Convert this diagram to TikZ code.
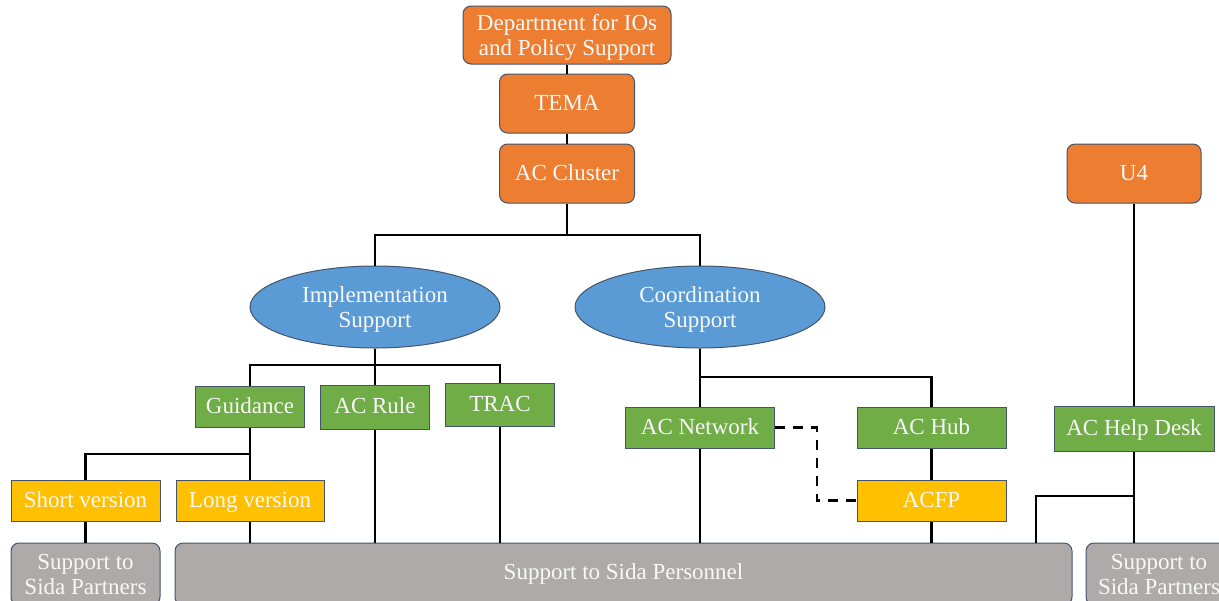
\documentclass[tikz,border=0pt]{standalone}
\usepackage{fontspec}
\setmainfont{Liberation Serif}
\usetikzlibrary{shapes.geometric}
\definecolor{orangeC}{HTML}{ED7D31}
\definecolor{blueC}{HTML}{5B9BD5}
\definecolor{greenC}{HTML}{70AD47}
\definecolor{yellowC}{HTML}{FFC000}
\definecolor{grayC}{HTML}{AEAAAA}
\definecolor{edgeC}{HTML}{44546A}
\definecolor{textC}{HTML}{F8F8F8}
\tikzset{
  base/.style={draw=edgeC, line width=0.5pt, text=textC, align=center, inner sep=0pt,
    font=\fontsize{11.5}{12.5}\selectfont},
  oneline/.style={text height=8.1pt, text depth=1.5pt},
  orangefill/.style={base, fill=orangeC, rounded corners=4pt},
  orangebox/.style={orangefill, oneline, minimum width=67.5pt, minimum height=29.5pt},
  ovalbox/.style={base, ellipse, fill=blueC, minimum width=125pt, minimum height=41pt},
  greenbox/.style={base, oneline, fill=greenC, minimum width=54.5pt, minimum height=21pt},
  widegreen/.style={base, oneline, fill=greenC, minimum width=74.5pt, minimum height=20.5pt},
  yellowbox/.style={base, oneline, fill=yellowC, minimum width=74.5pt, minimum height=20.5pt},
  graybox/.style={base, fill=grayC, rounded corners=4pt, minimum height=31pt},
  conn/.style={line width=1.3pt, black},
  dashconn/.style={conn, dash pattern=on 5pt off 4pt}
}
\begin{document}
\begin{tikzpicture}[x=0.5pt, y=-0.5pt]
\useasboundingbox (0,0) rectangle (1219,600);
\clip (0,0) rectangle (1219,600);
% top chain
\node[orangefill, minimum width=104pt, minimum height=29pt] (dept) at (567,35) {Department for IOs\\\smash{and Policy Support}};
\node[orangebox] (tema) at (567,103.5) {TEMA};
\node[orangebox] (cluster) at (567,173.5) {AC Cluster};
\node[orangebox, minimum width=67pt] (u4) at (1134,173.5) {U4};
% ellipses
\node[ovalbox] (impl) at (375,307) {Implementation\\\smash{Support}};
\node[ovalbox] (coord) at (700,307) {Coordination\\\smash{Support}};
% green boxes
\node[greenbox, minimum height=20.5pt] (guid) at (250,406.5) {Guidance};
\node[greenbox, minimum height=22pt] (rule) at (375,407) {AC Rule};
\node[greenbox, minimum height=21.5pt] (trac) at (500,404.5) {TRAC};
\node[widegreen] (net) at (700,427.5) {AC Network};
\node[widegreen] (hub) at (931.5,427.5) {AC Hub};
\node[widegreen, minimum width=80pt, minimum height=22.5pt] (help) at (1134,428.5) {AC Help Desk};
% yellow boxes
\node[yellowbox] (short) at (85.5,500.5) {Short version};
\node[yellowbox, minimum width=74pt] (long) at (250,500.5) {Long version};
\node[yellowbox] (acfp) at (931.5,500.5) {ACFP};
% gray boxes
\node[graybox, minimum width=74.5pt] (gleft) at (85.5,574) {Support to\\Sida Partners};
\node[graybox, minimum width=448.5pt] (big) at (623.5,574) {Support to Sida Personnel};
\node[graybox, minimum width=73pt] (gright) at (1159,574) {Support to\\Sida Partners};
% junctions
\coordinate (j1) at (567,235);
\coordinate (j2) at (375,365);
\coordinate (j3) at (250,454);
\coordinate (j4) at (700,377);
\coordinate (j5) at (1134,496);
\coordinate (j6) at (1036,543);
\coordinate (dx) at (817,0);
% connectors
\draw[conn] (dept.south) -- (tema.north);
\draw[conn] (tema.south) -- (cluster.north);
\draw[conn] (cluster.south) -- (j1);
\draw[conn] (impl.north) |- (j1) -| (coord.north);
\draw[conn] (impl.south) -- (j2);
\draw[conn] (guid.north) |- (j2) -| (trac.north);
\draw[conn] (j2) -- (rule.north);
\draw[conn] (guid.south) -- (long.north);
\draw[conn] (short.north) |- (j3);
\draw[conn] (short.south) -- (gleft.north);
\draw[conn] (long.south) -- (long.south |- big.north);
\draw[conn] (rule.south) -- (rule.south |- big.north);
\draw[conn] (trac.south) -- (trac.south |- big.north);
\draw[conn] (coord.south) -- (net.north);
\draw[conn] (j4) -| (hub.north);
\draw[conn] (net.south) -- (net.south |- big.north);
\draw[conn] (hub.south) -- (acfp.north);
\draw[conn] (acfp.south) -- (acfp.south |- big.north);
\draw[dashconn] (net.east) -| (dx |- acfp.west) -- (acfp.west);
\draw[conn] (u4.south) -- (help.north);
\draw[conn] (help.south) -- (help.south |- gright.north);
\draw[conn] (j5) -| (j6);
\end{tikzpicture}
\end{document}
